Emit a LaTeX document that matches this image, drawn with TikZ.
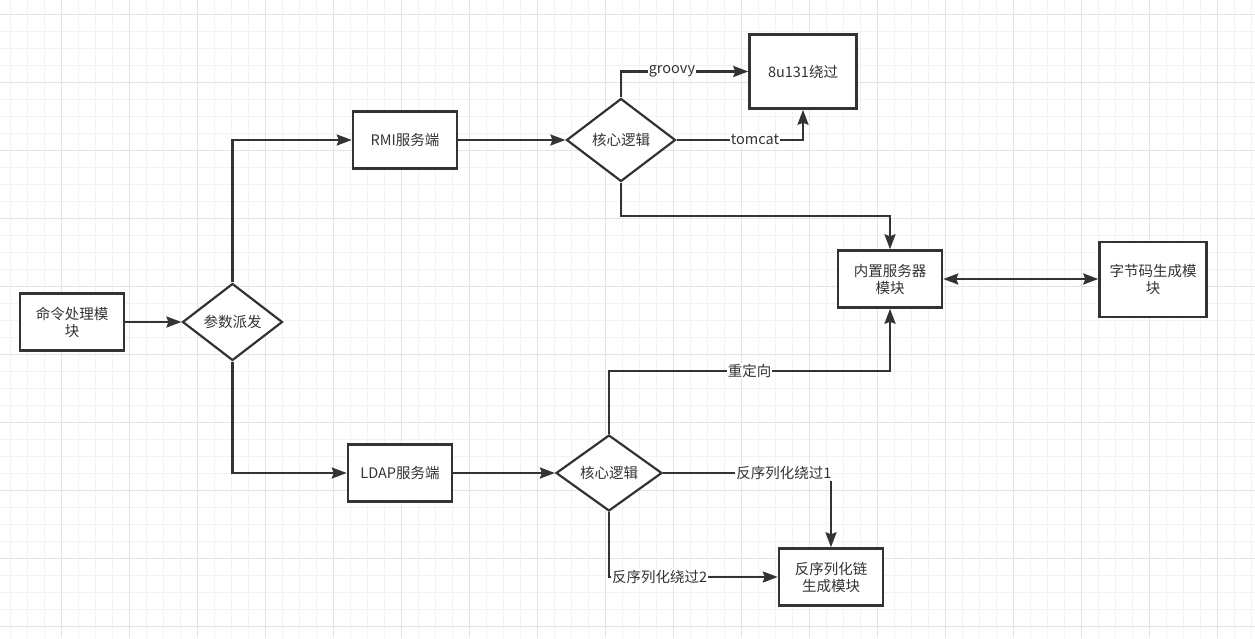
\documentclass[tikz,border=0pt]{standalone}
\usepackage{fontspec}
\setmainfont{Noto Sans CJK SC}
\usetikzlibrary{shapes.geometric,arrows.meta}
\definecolor{ink}{HTML}{333333}
\definecolor{gridminor}{HTML}{F2F2F2}
\definecolor{gridmajor}{HTML}{E4E4E4}

\begin{document}
\begin{tikzpicture}[x=1pt,y=-1pt,font=\fontsize{14.5}{17}\selectfont,
  every node/.style={text=ink},
  box/.style={draw=ink,line width=2.5pt,fill=white,align=center,minimum width=104pt,minimum height=57pt,inner sep=2pt},
  dec/.style={diamond,draw=ink,line width=2.2pt,fill=white,inner sep=0pt},
  flow/.style={draw=ink,line width=2.2pt},
  lbl/.style={fill=white,inner sep=1pt},
  >={Stealth[length=15pt,width=11pt,inset=2pt]}]
  \useasboundingbox (0,0) rectangle (1255,638);
  \fill[white] (0,0) rectangle (1255,638);
  \foreach \gx in {0,...,73} \draw[gridminor,line width=1pt] ({10.3+17*\gx},0) -- ({10.3+17*\gx},638);
  \foreach \gy in {0,...,37} \draw[gridminor,line width=1pt] (0,{14.7+17*\gy}) -- (1255,{14.7+17*\gy});
  \foreach \gx in {0,...,17} \draw[gridmajor,line width=1pt] ({61.3+68*\gx},0) -- ({61.3+68*\gx},638);
  \foreach \gy in {0,...,9} \draw[gridmajor,line width=1pt] (0,{14.7+68*\gy}) -- (1255,{14.7+68*\gy});

  \node[box] (cmd) at (72,322) {命令处理模\\块};
  \node[dec,minimum width=100pt,minimum height=77pt] (disp) at (232.5,322) {参数派发};
  \node[box] (rmi) at (405,140) {RMI服务端};
  \node[box] (ldap) at (400,473) {LDAP服务端};
  \node[dec,minimum width=109pt,minimum height=83pt] (core1) at (621,140) {核心逻辑};
  \node[dec,minimum width=106pt,minimum height=76pt] (core2) at (609,473) {核心逻辑};
  \node[box,minimum width=107pt,minimum height=74pt] (bypass) at (803,71.5) {8u131绕过};
  \node[box] (srv) at (890,279) {内置服务器\\模块};
  \node[box,minimum width=107pt,minimum height=75pt] (bytecode) at (1153,279.5) {字节码生成模\\块};
  \node[box] (chain) at (831,577) {反序列化链\\生成模块};

  \draw[flow,->] (cmd) -- (disp);
  \draw[flow,->] (disp.north) |- (rmi.west);
  \draw[flow,->] (disp.south) |- (ldap.west);
  \draw[flow,->] (rmi) -- (core1);
  \draw[flow,->] (ldap) -- (core2);
  \draw[flow,->] (core1.north) |- node[lbl,pos=0.7] {groovy} (bypass.west);
  \draw[flow,->] (core1.east) -| node[lbl,pos=0.31] {tomcat} (bypass.south);
  \draw[flow,->] (core1.south) -- ++(0,33) -| (srv.north);
  \draw[flow,->] (core2.north) -- ++(0,-63) -| node[lbl,pos=0.25] {重定向} (srv.south);
  \draw[flow,->] (core2.east) -| node[lbl,pos=0.36] {反序列化绕过1} (chain.north);
  \draw[flow,->] (core2.south) |- node[lbl,pos=0.65] {反序列化绕过2} (chain.west);
  \draw[flow,<->] (srv.east) -- (srv.east -| bytecode.west);
\end{tikzpicture}
\end{document}
